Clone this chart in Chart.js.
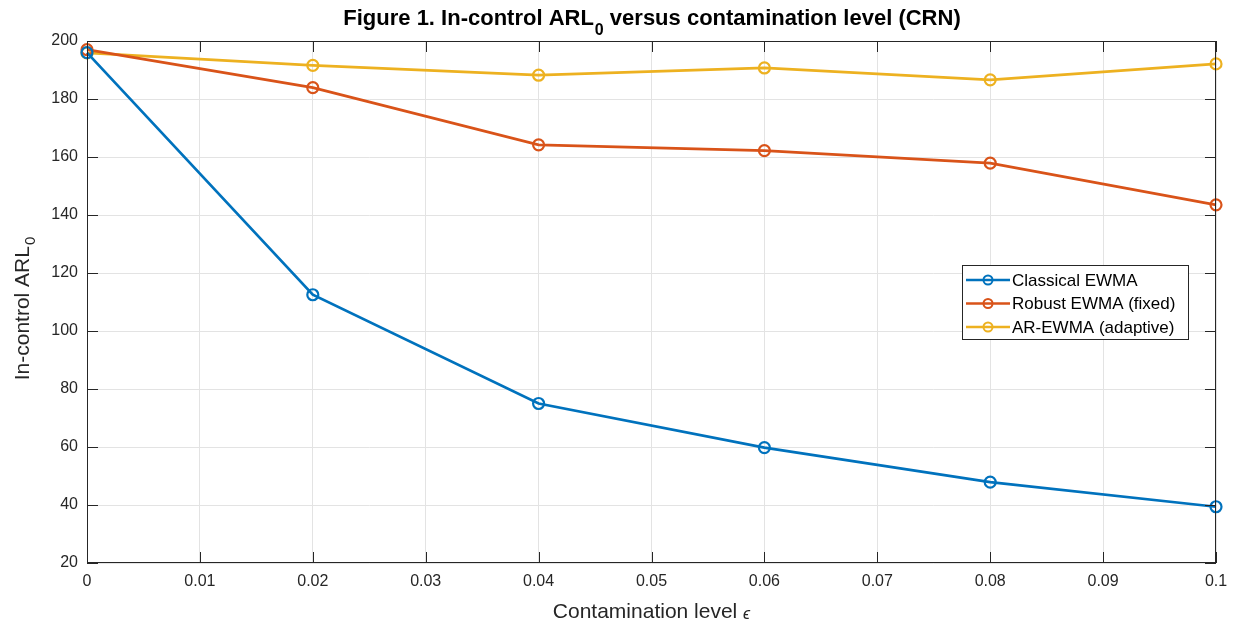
<!DOCTYPE html>
<html>
<head>
<meta charset="utf-8">
<script src="https://cdn.jsdelivr.net/npm/chart.js@4/dist/chart.umd.min.js"></script>
<style>
  html, body { margin: 0; padding: 0; background: #fff; }
  #wrap { width: 1238px; height: 625px; }
</style>
</head>
<body>
<div id="wrap"><canvas id="arl"></canvas></div>
<script>
/* ── Data ───────────────────────────────────────────── */
const levels    = [0, 0.02, 0.04, 0.06, 0.08, 0.1];
const classical = [196, 112.5, 75, 59.8, 47.9, 39.4];
const robust    = [197, 183.9, 164.2, 162.2, 157.9, 143.5];
const adaptive  = [195.9, 191.6, 188.2, 190.7, 186.6, 192.1];
const xTicks    = [0, 0.01, 0.02, 0.03, 0.04, 0.05, 0.06, 0.07, 0.08, 0.09, 0.1];
const yTicks    = [20, 40, 60, 80, 100, 120, 140, 160, 180, 200];

const FONT = "'Liberation Sans', Arial, Helvetica, sans-serif";

function series(values) {
  return levels.map((x, i) => ({ x: x, y: values[i] }));
}

function line(label, values, color) {
  return {
    label: label,
    data: series(values),
    borderColor: color,
    backgroundColor: color,
    borderWidth: 2.7,
    pointStyle: 'circle',
    pointRadius: 5.5,
    pointBorderWidth: 2.2,
    pointBackgroundColor: 'rgba(255,255,255,0)',
    pointBorderColor: color,
    tension: 0
  };
}

/* ── Frame, inner ticks, titles, legend ─────────────── */
const matlabLook = {
  id: 'matlabLook',
  afterDraw(chart) {
    const { ctx, chartArea: a, scales } = chart;
    ctx.save();

    // box
    ctx.strokeStyle = '#262626';
    ctx.lineWidth = 1;
    ctx.strokeRect(a.left + 0.5, a.top + 0.5, a.right - a.left - 1, a.bottom - a.top - 1);

    // inward ticks
    ctx.beginPath();
    xTicks.forEach(v => {
      const px = Math.round(scales.x.getPixelForValue(v)) + 0.5;
      ctx.moveTo(px, a.bottom); ctx.lineTo(px, a.bottom - 11);
      ctx.moveTo(px, a.top);    ctx.lineTo(px, a.top + 11);
    });
    yTicks.forEach(v => {
      const py = Math.round(scales.y.getPixelForValue(v)) + 0.5;
      ctx.moveTo(a.left, py);  ctx.lineTo(a.left + 11, py);
      ctx.moveTo(a.right, py); ctx.lineTo(a.right - 11, py);
    });
    ctx.stroke();

    ctx.fillStyle = '#000';
    ctx.textBaseline = 'alphabetic';
    ctx.textAlign = 'left';

    // title with subscript
    const t1 = 'Figure 1. In-control ARL', t2 = '0', t3 = ' versus contamination level (CRN)';
    ctx.font = 'bold 22px ' + FONT;
    const w1 = ctx.measureText(t1).width, w3 = ctx.measureText(t3).width;
    ctx.font = 'bold 16px ' + FONT;
    const w2 = ctx.measureText(t2).width;
    const tx = (a.left + a.right) / 2 - (w1 + w2 + w3) / 2;
    ctx.font = 'bold 22px ' + FONT;
    ctx.fillText(t1, tx, 25);
    ctx.font = 'bold 16px ' + FONT;
    ctx.fillText(t2, tx + w1 + 1, 35);
    ctx.font = 'bold 22px ' + FONT;
    ctx.fillText(t3, tx + w1 + w2 + 1, 25);

    // x label
    ctx.fillStyle = '#262626';
    ctx.font = '21px ' + FONT;
    const xl = 'Contamination level ';
    const wx = ctx.measureText(xl).width;
    ctx.font = 'italic 16px ' + FONT;
    const we = ctx.measureText('ϵ').width;
    const lx = (a.left + a.right) / 2 - (wx + we) / 2;
    ctx.font = '21px ' + FONT;
    ctx.fillText(xl, lx, 618);
    ctx.font = 'italic 16px ' + FONT;
    ctx.fillText('ϵ', lx + wx, 619);

    // y label (rotated) with subscript
    ctx.translate(29, (a.top + a.bottom) / 2 + 7);
    ctx.rotate(-Math.PI / 2);
    ctx.font = '21px ' + FONT;
    const y1 = 'In-control ARL';
    const wy1 = ctx.measureText(y1).width;
    ctx.font = '15px ' + FONT;
    const wy2 = ctx.measureText('0').width;
    const yx = -(wy1 + wy2) / 2;
    ctx.font = '21px ' + FONT;
    ctx.fillText(y1, yx, 0);
    ctx.font = '15px ' + FONT;
    ctx.fillText('0', yx + wy1 + 1, 6);
    ctx.setTransform(1, 0, 0, 1, 0, 0);

    // legend box
    const lgX = 962, lgY = 265, lgW = 226, lgH = 74;
    ctx.fillStyle = '#fff';
    ctx.fillRect(lgX, lgY, lgW, lgH);
    ctx.strokeStyle = '#262626';
    ctx.lineWidth = 1;
    ctx.strokeRect(lgX + 0.5, lgY + 0.5, lgW, lgH);
    chart.data.datasets.forEach((ds, i) => {
      const cy = lgY + 15 + i * 23.5;
      ctx.strokeStyle = ds.borderColor;
      ctx.lineWidth = 2.7;
      ctx.beginPath();
      ctx.moveTo(lgX + 4, cy); ctx.lineTo(lgX + 48, cy);
      ctx.stroke();
      ctx.lineWidth = 2;
      ctx.beginPath();
      ctx.arc(lgX + 26, cy, 4.5, 0, Math.PI * 2);
      ctx.stroke();
      ctx.fillStyle = '#000';
      ctx.font = '17px ' + FONT;
      ctx.textBaseline = 'middle';
      ctx.fillText(ds.label, lgX + 50, cy + 1);
    });
    ctx.restore();
  }
};

/* ── Chart ──────────────────────────────────────────── */
new Chart(document.getElementById('arl'), {
  type: 'line',
  data: {
    datasets: [
      line('Classical EWMA', classical, '#0072BD'),
      line('Robust EWMA (fixed)', robust, '#D95319'),
      line('AR-EWMA (adaptive)', adaptive, '#EDB120')
    ]
  },
  options: {
    responsive: true,
    maintainAspectRatio: false,
    animation: false,
    clip: false,
    layout: { padding: { top: 41, right: 22, left: 0, bottom: 0 } },
    plugins: {
      legend: { display: false },
      title: { display: false },
      tooltip: { enabled: false }
    },
    scales: {
      x: {
        type: 'linear',
        min: 0, max: 0.1,
        afterBuildTicks: s => { s.ticks = xTicks.map(v => ({ value: v })); },
        afterFit: s => { s.height = 62; },
        grid: { color: '#e3e3e3', drawTicks: false },
        border: { display: false },
        ticks: {
          color: '#262626',
          font: { family: FONT, size: 16 },
          padding: 9,
          maxRotation: 0,
          callback: v => String(parseFloat(v.toFixed(2)))
        }
      },
      y: {
        type: 'linear',
        min: 20, max: 200,
        afterBuildTicks: s => { s.ticks = yTicks.map(v => ({ value: v })); },
        afterFit: s => { s.width = 87; },
        grid: { color: '#e3e3e3', drawTicks: false },
        border: { display: false },
        ticks: {
          color: '#262626',
          font: { family: FONT, size: 16 },
          padding: 9
        }
      }
    }
  },
  plugins: [matlabLook]
});
</script>
</body>
</html>
